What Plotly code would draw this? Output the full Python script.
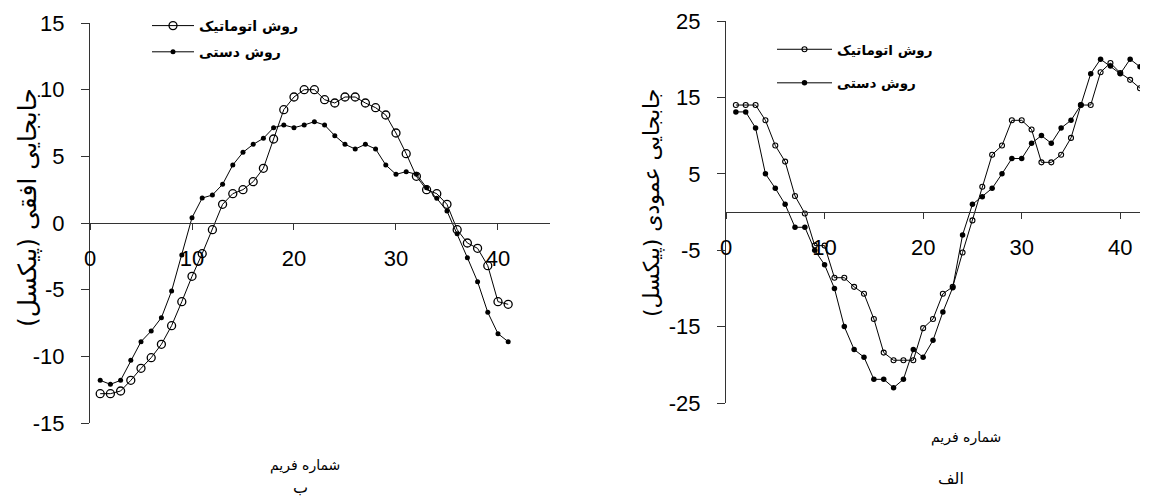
import plotly.graph_objects as go

# ---------------- data ----------------
frames_b = list(range(1, 42))
auto_b = [-12.8, -12.8, -12.6, -11.8, -10.9, -10.1, -9.1, -7.7, -5.9, -4.0,
          -2.3, -0.5, 1.4, 2.2, 2.5, 3.1, 4.1, 6.3, 8.5, 9.45,
          10.0, 10.0, 9.25, 9.0, 9.45, 9.45, 9.0, 8.65, 8.1, 6.75,
          5.2, 3.5, 2.5, 2.2, 1.4, -0.5, -1.5, -1.9, -3.2, -5.9, -6.1]
manual_b = [-11.8, -12.1, -11.8, -10.3, -8.9, -8.1, -7.1, -5.1, -2.4, 0.4,
            1.87, 2.1, 2.9, 4.35, 5.3, 5.9, 6.35, 7.15, 7.35, 7.15,
            7.35, 7.6, 7.35, 6.55, 5.9, 5.55, 5.9, 5.55, 4.35, 3.65,
            3.85, 3.65, 2.65, 1.85, 0.9, -0.8, -2.6, -4.4, -6.7, -8.3, -8.9]

frames_a = list(range(1, 43))
auto_a = [14.0, 14.0, 14.0, 12.0, 8.7, 6.6, 2.1, -0.2, -4.4, -4.4,
          -8.6, -8.6, -9.8, -10.7, -14.0, -18.4, -19.4, -19.4, -19.4, -15.2,
          -14.0, -10.7, -9.8, -5.3, -1.1, 3.3, 7.5, 8.7, 12.0, 12.0,
          10.8, 6.5, 6.5, 7.5, 9.7, 14.0, 14.0, 18.3, 19.5, 18.2,
          17.3, 16.2]
manual_a = [13.1, 13.1, 11.0, 5.0, 3.1, 1.0, -2.0, -2.0, -5.0, -6.9,
            -10.0, -15.0, -18.0, -19.0, -21.9, -21.9, -23.0, -21.9, -18.0, -19.0,
            -16.8, -13.1, -9.9, -3.0, 1.0, 2.0, 3.1, 5.0, 7.0, 7.0,
            9.0, 10.0, 9.0, 11.0, 12.0, 14.0, 18.1, 20.0, 19.1, 18.1,
            20.0, 19.0]

name_auto = "روش اتوماتیک"
name_manual = "روش دستی"
ytitle_b = "جابجایی افقی (پیکسل)"
ytitle_a = "جابجایی عمودی (پیکسل)"
xtitle = "شماره فریم"
label_b = "ب"
label_a = "الف"

yticks_b = [-15, -10, -5, 0, 5, 10, 15]
yticks_a = [-25, -15, -5, 5, 15, 25]
xticks = [0, 10, 20, 30, 40]

W, H = 1158, 497
NUM_FONT = "Liberation Sans, Arial, sans-serif"
AR_FONT = "DejaVu Sans, sans-serif"

fig = go.Figure()

# left chart (ب)
fig.add_trace(go.Scatter(x=frames_b, y=auto_b, mode="lines+markers", name=f"<b>{name_auto}</b>",
                         line=dict(color="black", width=1),
                         marker=dict(symbol="circle-open", size=8, color="black", line=dict(width=1.3)),
                         xaxis="x", yaxis="y", legend="legend", legendgroup="b1"))
fig.add_trace(go.Scatter(x=frames_b, y=manual_b, mode="lines+markers", name=f"<b>{name_manual}</b>",
                         line=dict(color="black", width=1),
                         marker=dict(symbol="circle", size=5, color="black"),
                         xaxis="x", yaxis="y", legend="legend", legendgroup="b2"))
# right chart (الف)
fig.add_trace(go.Scatter(x=frames_a, y=auto_a, mode="lines+markers", name=f"<b>{name_auto}</b>",
                         line=dict(color="black", width=1),
                         marker=dict(symbol="circle-open", size=5, color="black", line=dict(width=1.1)),
                         xaxis="x2", yaxis="y2", legend="legend2", legendgroup="a1"))
fig.add_trace(go.Scatter(x=frames_a, y=manual_a, mode="lines+markers", name=f"<b>{name_manual}</b>",
                         line=dict(color="black", width=1),
                         marker=dict(symbol="circle", size=5.5, color="black"),
                         xaxis="x2", yaxis="y2", legend="legend2", legendgroup="a2"))

def px_x(p):
    return p / W

def px_y(p):
    return 1 - p / H

yb_dom = [px_y(423), px_y(23)]
ya_dom = [px_y(403), px_y(21)]

common_x = dict(showgrid=False, zeroline=False, showline=True, linecolor="#333", linewidth=1,
                ticks="outside", ticklen=6, tickcolor="#333", tickvals=xticks,
                ticktext=[str(v) for v in xticks],
                tickfont=dict(family=NUM_FONT, size=22, color="black"),
                ticklabelstandoff=10, anchor="free", automargin=False)
common_y = dict(showgrid=False, zeroline=False, showline=True, linecolor="#333", linewidth=1,
                ticks="outside", ticklen=8, tickcolor="#333",
                tickfont=dict(family=NUM_FONT, size=22, color="black"),
                ticklabelstandoff=12, automargin=False)

ann_font = lambda s: dict(family=AR_FONT, size=s, color="black")

fig.update_layout(
    width=W, height=H,
    margin=dict(l=0, r=0, t=0, b=0, autoexpand=False),
    paper_bgcolor="white", plot_bgcolor="white",
    showlegend=True,
    xaxis=dict(common_x, domain=[px_x(90), px_x(550)], range=[0, 45.1],
               position=(yb_dom[0] + yb_dom[1]) / 2),
    yaxis=dict(common_y, domain=yb_dom, range=[-15, 15], tickvals=yticks_b,
               ticktext=[str(v) for v in yticks_b], anchor="x"),
    xaxis2=dict(common_x, domain=[px_x(726), px_x(1140)], range=[0, 42],
                position=(ya_dom[0] + ya_dom[1]) / 2),
    yaxis2=dict(common_y, domain=ya_dom, range=[-25, 25], tickvals=yticks_a,
                ticktext=[str(v) for v in yticks_a], anchor="x2"),
    legend=dict(x=px_x(147), y=px_y(10), xanchor="left", yanchor="top",
                bgcolor="rgba(0,0,0,0)", borderwidth=0, itemwidth=42,
                font=dict(family=AR_FONT, size=14, color="black"), tracegroupgap=5),
    legend2=dict(x=px_x(772), y=px_y(34), xanchor="left", yanchor="top",
                 bgcolor="rgba(0,0,0,0)", borderwidth=0, itemwidth=55,
                 font=dict(family=AR_FONT, size=13.5, color="black"), tracegroupgap=13),
    annotations=[
        dict(text=ytitle_b, x=px_x(27), y=px_y(208), xref="paper", yref="paper",
             xanchor="center", yanchor="middle",
             textangle=-90, showarrow=False, font=ann_font(25)),
        dict(text=ytitle_a, x=px_x(652), y=px_y(203), xref="paper", yref="paper",
             xanchor="center", yanchor="middle",
             textangle=-90, showarrow=False, font=ann_font(22)),
        dict(text=xtitle, x=px_x(305), y=px_y(465), xref="paper", yref="paper",
             xanchor="center", yanchor="middle", showarrow=False, font=ann_font(14)),
        dict(text=label_b, x=px_x(300), y=px_y(487), xref="paper", yref="paper",
             xanchor="center", yanchor="middle", showarrow=False, font=ann_font(16)),
        dict(text=xtitle, x=px_x(966), y=px_y(437), xref="paper", yref="paper",
             xanchor="center", yanchor="middle", showarrow=False, font=ann_font(14)),
        dict(text=label_a, x=px_x(951), y=px_y(478), xref="paper", yref="paper",
             xanchor="center", yanchor="middle", showarrow=False, font=ann_font(16)),
    ],
)

fig.write_html("out.html", config={"displayModeBar": False},
               post_script="document.body.style.margin='0';")
